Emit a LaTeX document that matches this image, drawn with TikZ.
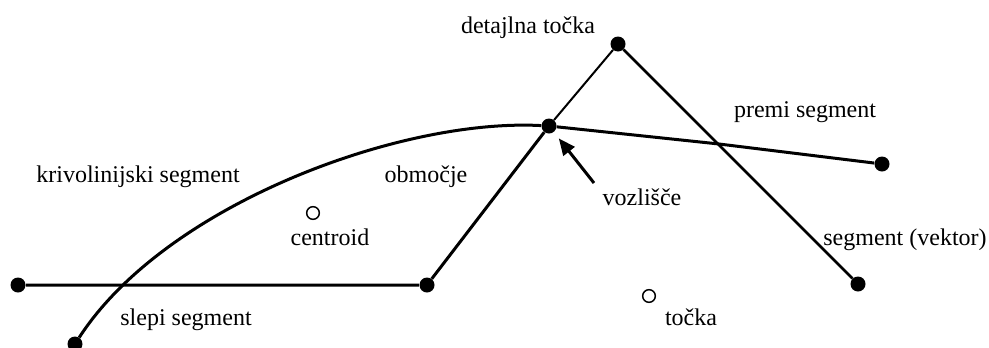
\documentclass[tikz,border=0pt]{standalone}
\usepackage{fontspec}
\setmainfont{Liberation Serif}
\usepackage{tikz}
\usetikzlibrary{arrows.meta,positioning}

\tikzset{
  dot/.style={circle,fill=black,inner sep=0pt,minimum size=11.25pt},
  hollow/.style={circle,draw=black,line width=1.1pt,inner sep=0pt,minimum size=9.5pt},
  lbl/.style={font=\fontsize{18}{21}\selectfont,inner sep=0pt,anchor=base},
  seg/.style={line width=2.25pt},
}

\begin{document}
\begin{tikzpicture}[x=0.75pt,y=-0.75pt]
    \useasboundingbox (0,0) rectangle (989,347);
    \clip (0,0) rectangle (989,347);

    % points
    \node[dot] (left) at (18,285) {};
    \node[dot] (bend) at (427,285) {};
    \node[dot] (vertex) at (549,126) {};
    \node[dot] (detail) at (618,44) {};
    \node[dot] (right) at (882,164) {};
    \node[dot] (vektor) at (858,284) {};
    \node[dot] (curveend) at (75,344) {};
    \node[hollow] (centroid) at (313,213) {};
    \node[hollow] (tocka) at (649,296) {};
    \coordinate (premibend) at (719,144);
    \coordinate (arrowtail) at (594,183);

    % segments
    \draw [seg] (left) -- (bend) -- (vertex);
    \draw [line width=1.5pt] (vertex) -- (detail);
    \draw [line width=1.9pt] (detail) -- (vektor);
    \draw [seg] (vertex) -- (premibend) -- (right);
    \draw [seg] (curveend) .. controls (165,205) and (400,118) .. (vertex);
    \draw [seg, -{Triangle[length=12.5pt,width=10.5pt]}, shorten >=6pt] (arrowtail) -- (vertex);

    % Annotations
    \node[lbl] (detailtxt) at (528,33) {detajlna točka};
    \node[lbl] (premitxt) at (805,117) {premi segment};
    \node[lbl] (krivtxt) at (138,182) {krivolinijski segment};
    \node[lbl] (obmtxt) at (426,182) {območje};
    \node[lbl] (vozltxt) at (642,205) {vozlišče};
    \node[lbl] (centtxt) at (330,245) {centroid};
    \node[lbl] (vektxt) at (905,245) {segment (vektor)};
    \node[lbl] (slepitxt) at (186,325) {slepi segment};
    \node[lbl] (tockatxt) at (691,325) {točka};
\end{tikzpicture}
\end{document}
